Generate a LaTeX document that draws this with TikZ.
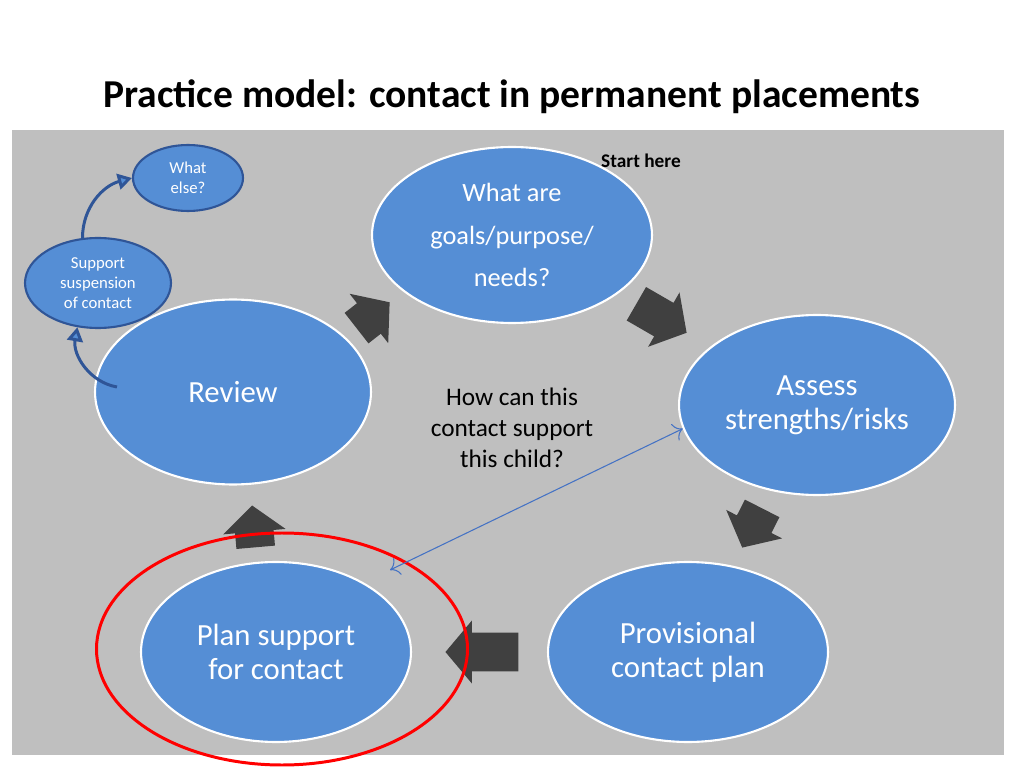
\documentclass[tikz,border=0pt]{standalone}
\usepackage{fontspec}
\setmainfont{Carlito}
\usetikzlibrary{shapes.geometric,shapes.arrows,arrows.meta}
\definecolor{panelgrey}{RGB}{191,191,191}
\definecolor{stageblue}{RGB}{85,142,213}
\definecolor{rimblue}{RGB}{47,85,151}
\definecolor{arrowgrey}{RGB}{64,64,64}
\definecolor{linkblue}{RGB}{68,114,196}
\newcommand{\stagefont}{\fontsize{17.5}{19.3}\selectfont}
\newcommand{\goalfont}{\fontsize{15}{24.4}\selectfont}
\newcommand{\sidefont}{\fontsize{9.5}{11.3}\selectfont}

\begin{document}
\begin{tikzpicture}[x=0.02cm,y=0.02cm,
   stage/.style={ellipse,fill=stageblue,draw=white,line width=1.2pt,text=white,
      align=center,inner sep=0pt,font=\stagefont},
   sidestage/.style={ellipse,fill=stageblue,draw=rimblue,line width=1.2pt,text=white,
      align=center,inner sep=0pt,font=\sidefont},
   blockarrow/.style={single arrow,fill=arrowgrey,anchor=tip,inner xsep=0pt,
      inner ysep=0.38cm,single arrow head extend=0.24cm,single arrow tip angle=100},
   backarrow/.style={draw=rimblue,line width=1.7pt,
      -{Triangle[length=8pt,width=9pt,fill=stageblue]}}]

 \useasboundingbox (0,0) rectangle (1024,768);
 \fill[panelgrey] (12,13) rectangle (1004,638);

 \node[font=\bfseries\fontsize{22.5}{26}\selectfont] (title) at (512,671)
   {Practice model: contact in permanent placements};

 \node[stage,font=\goalfont,minimum width=5.6cm,minimum height=3.52cm] (goals) at (512,533)
   {What are\\goals/purpose/\\needs?};
 \node[stage,minimum width=5.52cm,minimum height=3.6cm] (assess) at (817,363)
   {Assess\\strengths/risks};
 \node[stage,minimum width=5.6cm,minimum height=3.6cm] (provisional) at (688,116)
   {Provisional\\contact plan};
 \node[stage,minimum width=5.4cm,minimum height=3.6cm] (plan) at (276,116)
   {Plan support\\for contact};
 \node[stage,minimum width=5.52cm,minimum height=3.7cm] (review) at (233,376)
   {Review};
 \node[sidestage,minimum width=2.92cm,minimum height=1.8cm] (suspend) at (98,485)
   {Support\\suspension\\of contact};
 \node[sidestage,minimum width=2.2cm,minimum height=1.32cm] (whatelse) at (188,590)
   {What\\else?};

 \node[font=\fontsize{14.4}{17.6}\selectfont,align=center] (question) at (512,340)
   {How can this\\contact support\\this child?};
 \node[font=\bfseries\fontsize{11}{13}\selectfont] (start) at (641,607) {Start here};

 \node[blockarrow,minimum height=0.84cm,rotate=38] (toGoals) at (390,466) {};
 \node[blockarrow,minimum height=1.16cm,rotate=-30] (toAssess) at (687,435) {};
 \node[blockarrow,minimum height=0.88cm,rotate=-117] (toProvisional) at (742,220) {};
 \node[blockarrow,minimum height=1.46cm,rotate=180] (toPlan) at (445,116) {};
 \node[blockarrow,minimum height=0.84cm,rotate=95] (toReview) at (252,263) {};

 \draw[red,line width=1.7pt] (282,119) ellipse [x radius=185.5,y radius=116];

 \coordinate (planfocus) at (390,198);
 \draw[linkblue,line width=0.6pt,{To[length=5pt]}-{To[length=5pt]}] (assess.190) -- (planfocus);

 \draw[backarrow] ([xshift=0.46cm,yshift=0.1cm]review.west) to[out=170,in=260] (suspend.245);
 \draw[backarrow] (suspend.109) to[out=90,in=195] (whatelse.180);

\end{tikzpicture}
\end{document}
